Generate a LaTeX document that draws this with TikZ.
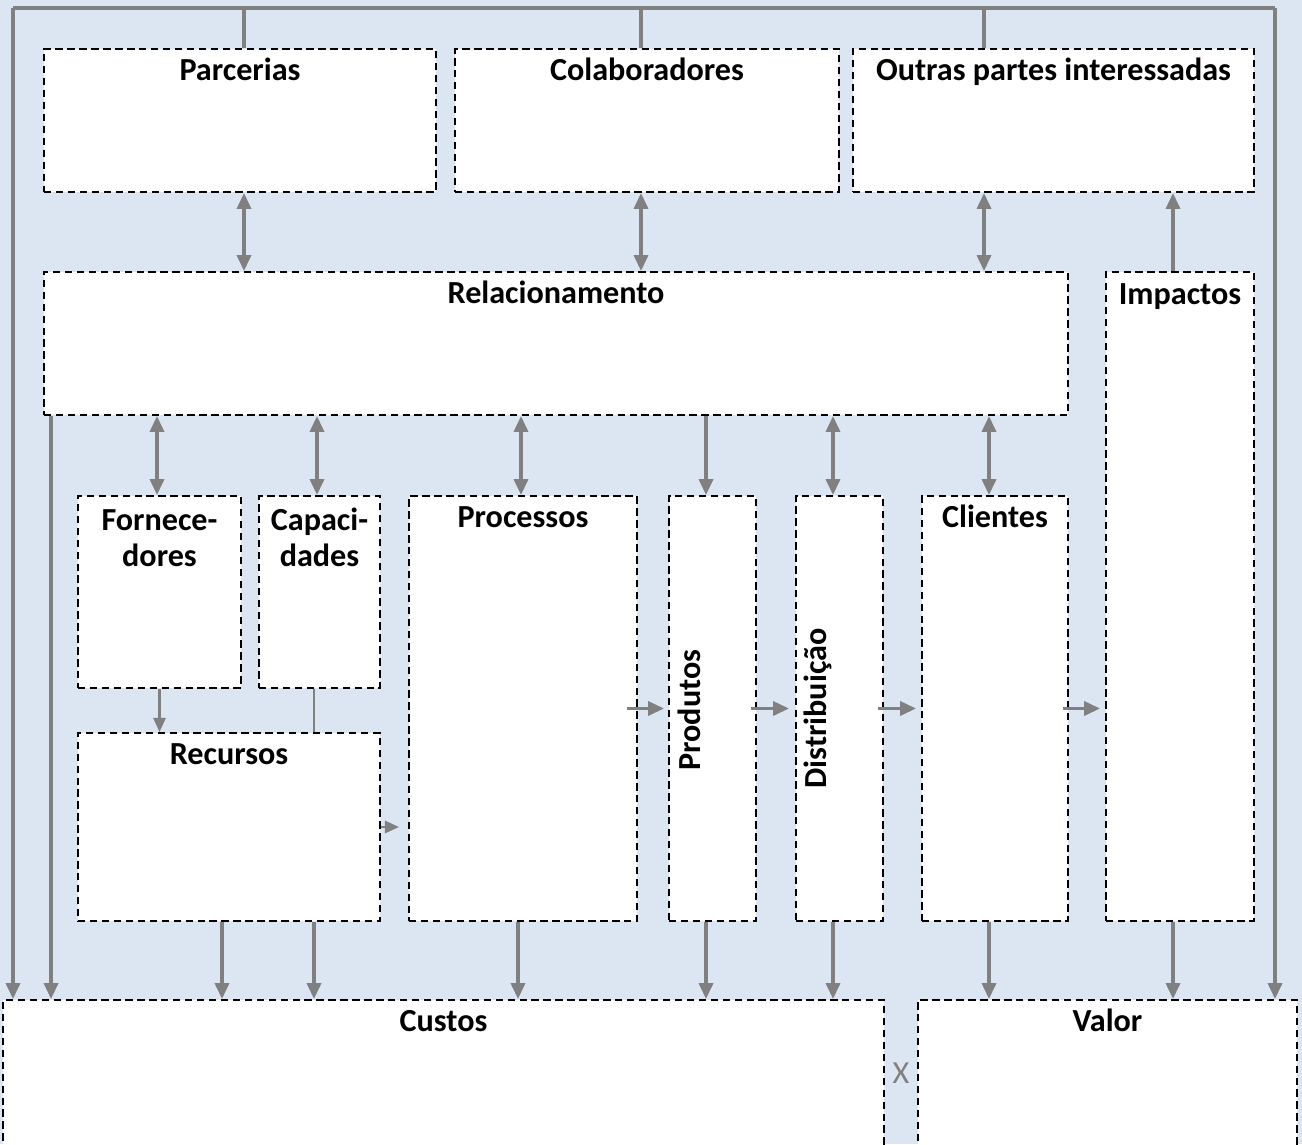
\documentclass[tikz,border=0pt]{standalone}
\usepackage{fontspec}
\setmainfont{Carlito}
\usepackage{xcolor}
\usepackage{tikz}
\usetikzlibrary{arrows.meta, positioning}

\definecolor{canvas}{HTML}{DCE6F2}
\definecolor{wire}{HTML}{808080}

\begin{document}
\begin{tikzpicture}[x=0.02cm, y=-0.02cm,
            box/.style={draw, dash pattern=on 4.2pt off 2.6pt, line width=1.2pt, fill=white, inner sep=0pt},
            lbl/.style={anchor=base, inner sep=0pt, yshift=-0.66cm, align=center, font=\fontsize{18.3}{21}\selectfont\bfseries},
            rot/.style={rotate=90, anchor=north, inner sep=0pt, font=\fontsize{18.3}{21}\selectfont\bfseries},
            wireline/.style={draw=wire, line width=1.8pt},
            conn/.style={wireline, -{Triangle[length=9pt, width=8pt]}},
            both/.style={wireline, {Triangle[length=9pt, width=8pt]}-{Triangle[length=9pt, width=8pt]}},
            thin/.style={draw=wire, line width=1.2pt, -{Triangle[length=8pt, width=7pt]}}]

            \fill[canvas] (0,0) rectangle (1302,1144);
            \useasboundingbox (0,0) rectangle (1302,1144);

            % top row
            \node[box, minimum width=7.84cm, minimum height=2.86cm, label={[lbl]north:Parcerias}] (parc) at (240,120.5) {};
            \node[box, minimum width=7.68cm, minimum height=2.86cm, label={[lbl]north:Colaboradores}] (colab) at (647,120.5) {};
            \node[box, minimum width=8.02cm, minimum height=2.86cm, label={[lbl]north:Outras partes interessadas}] (outras) at (1053.5,120.5) {};

            \node[box, minimum width=20.48cm, minimum height=2.86cm, label={[lbl]north:Relacionamento}] (rel) at (556,343.5) {};
            \node[box, minimum width=2.96cm, minimum height=12.98cm, label={[lbl]north:Impactos}] (imp) at (1180,596.5) {};

            % middle row
            \node[box, minimum width=3.26cm, minimum height=3.84cm, label={[lbl, yshift=-0.78cm]north:Fornece-\\dores}] (forn) at (159.5,592) {};
            \node[box, minimum width=2.42cm, minimum height=3.84cm, label={[lbl, yshift=-0.78cm]north:Capaci-\\dades}] (capac) at (319.5,592) {};
            \node[box, minimum width=6.04cm, minimum height=3.76cm, label={[lbl]north:Recursos}] (recur) at (229,827) {};
            \node[box, minimum width=4.56cm, minimum height=8.5cm, label={[lbl]north:Processos}] (proc) at (523,708.5) {};
            \node[box, minimum width=1.74cm, minimum height=8.5cm] (prod) at (712.5,708.5) {};
            \node[rot] (prodtxt) at ([xshift=0.2cm, yshift=-0.03cm]prod.west) {Produtos};
            \node[box, minimum width=1.74cm, minimum height=8.5cm] (dist) at (839.5,708.5) {};
            \node[rot] (disttxt) at ([xshift=0.18cm]dist.west) {Distribuição};
            \node[box, minimum width=2.92cm, minimum height=8.5cm, label={[lbl]north:Clientes}] (cli) at (995,708.5) {};

            % bottom row
            \node[box, minimum width=17.62cm, minimum height=3.2cm, label={[lbl]north:Custos}] (custos) at (443.5,1080) {};
            \node[box, minimum width=7.58cm, minimum height=3.2cm, label={[lbl]north:Valor}] (valor) at (1107.5,1080) {};
            \node[text=wire, font=\fontsize{18.3}{21}\selectfont] (vs) at (901,1073) {X};

            % frame
            \coordinate (tl) at (13,8);
            \coordinate (tr) at (1275,8);
            \coordinate (t1) at (244,8);
            \coordinate (t2) at (641,8);
            \coordinate (t3) at (984,8);
            \draw[wireline] (tl) -- (tr);
            \draw[wireline] (t1) -- (t1 |- parc.north);
            \draw[wireline] (t2) -- (t2 |- colab.north);
            \draw[wireline] (t3) -- (t3 |- outras.north);
            \draw[conn] (tl) -- (tl |- custos.north);
            \draw[conn] (tr) -- (tr |- valor.north);

            \draw[both] (t1 |- parc.south) -- (t1 |- rel.north);
            \draw[both] (t2 |- colab.south) -- (t2 |- rel.north);
            \draw[both] (t3 |- outras.south) -- (t3 |- rel.north);
            \draw[conn] ([xshift=-0.14cm]imp.north) -- ([xshift=-0.14cm]imp.north |- outras.south);

            \draw[both] ([xshift=-0.05cm]rel.south -| forn.north) -- ([xshift=-0.05cm]forn.north);
            \draw[both] ([xshift=-0.05cm]rel.south -| capac.north) -- ([xshift=-0.05cm]capac.north);
            \draw[both] ([xshift=-0.04cm]rel.south -| proc.north) -- ([xshift=-0.04cm]proc.north);
            \draw[conn] ([xshift=-0.13cm]rel.south -| prod.north) -- ([xshift=-0.13cm]prod.north);
            \draw[both] ([xshift=-0.13cm]rel.south -| dist.north) -- ([xshift=-0.13cm]dist.north);
            \draw[both] ([xshift=-0.12cm]rel.south -| cli.north) -- ([xshift=-0.12cm]cli.north);

            \coordinate (rl) at ([xshift=0.16cm]rel.south west);
            \draw[conn] (rl) -- (rl |- custos.north);

            \draw[thin] (forn.south) -- (forn.south |- recur.north);
            \draw[draw=wire, line width=1.2pt] ([xshift=-0.11cm]capac.south) -- ([xshift=-0.11cm]capac.south |- recur.north);
            \draw[thin] (recur.east) -- ([xshift=-0.18cm]proc.west |- recur.east);

            \draw[conn] ([xshift=-0.22cm]proc.east) -- ([xshift=-0.08cm]prod.west);
            \draw[conn] ([xshift=-0.12cm]prod.east) -- ([xshift=-0.12cm]dist.west);
            \draw[conn] ([xshift=-0.12cm]dist.east) -- ([xshift=-0.1cm]cli.west);
            \draw[conn] ([xshift=-0.12cm]cli.east) -- ([xshift=-0.1cm]imp.west |- cli.east);

            \draw[conn] ([xshift=-0.14cm]recur.south) -- ([xshift=-0.14cm]recur.south |- custos.north);
            \draw[conn] ([xshift=-0.11cm]capac.south |- recur.south) -- ([xshift=-0.11cm]capac.south |- custos.north);
            \draw[conn] ([xshift=-0.1cm]proc.south) -- ([xshift=-0.1cm]proc.south |- custos.north);
            \draw[conn] ([xshift=-0.13cm]prod.south) -- ([xshift=-0.13cm]prod.south |- custos.north);
            \draw[conn] ([xshift=-0.13cm]dist.south) -- ([xshift=-0.13cm]dist.south |- custos.north);
            \draw[conn] ([xshift=-0.12cm]cli.south) -- ([xshift=-0.12cm]cli.south |- valor.north);
            \draw[conn] ([xshift=-0.14cm]imp.south) -- ([xshift=-0.14cm]imp.south |- valor.north);
        \end{tikzpicture}
\end{document}
